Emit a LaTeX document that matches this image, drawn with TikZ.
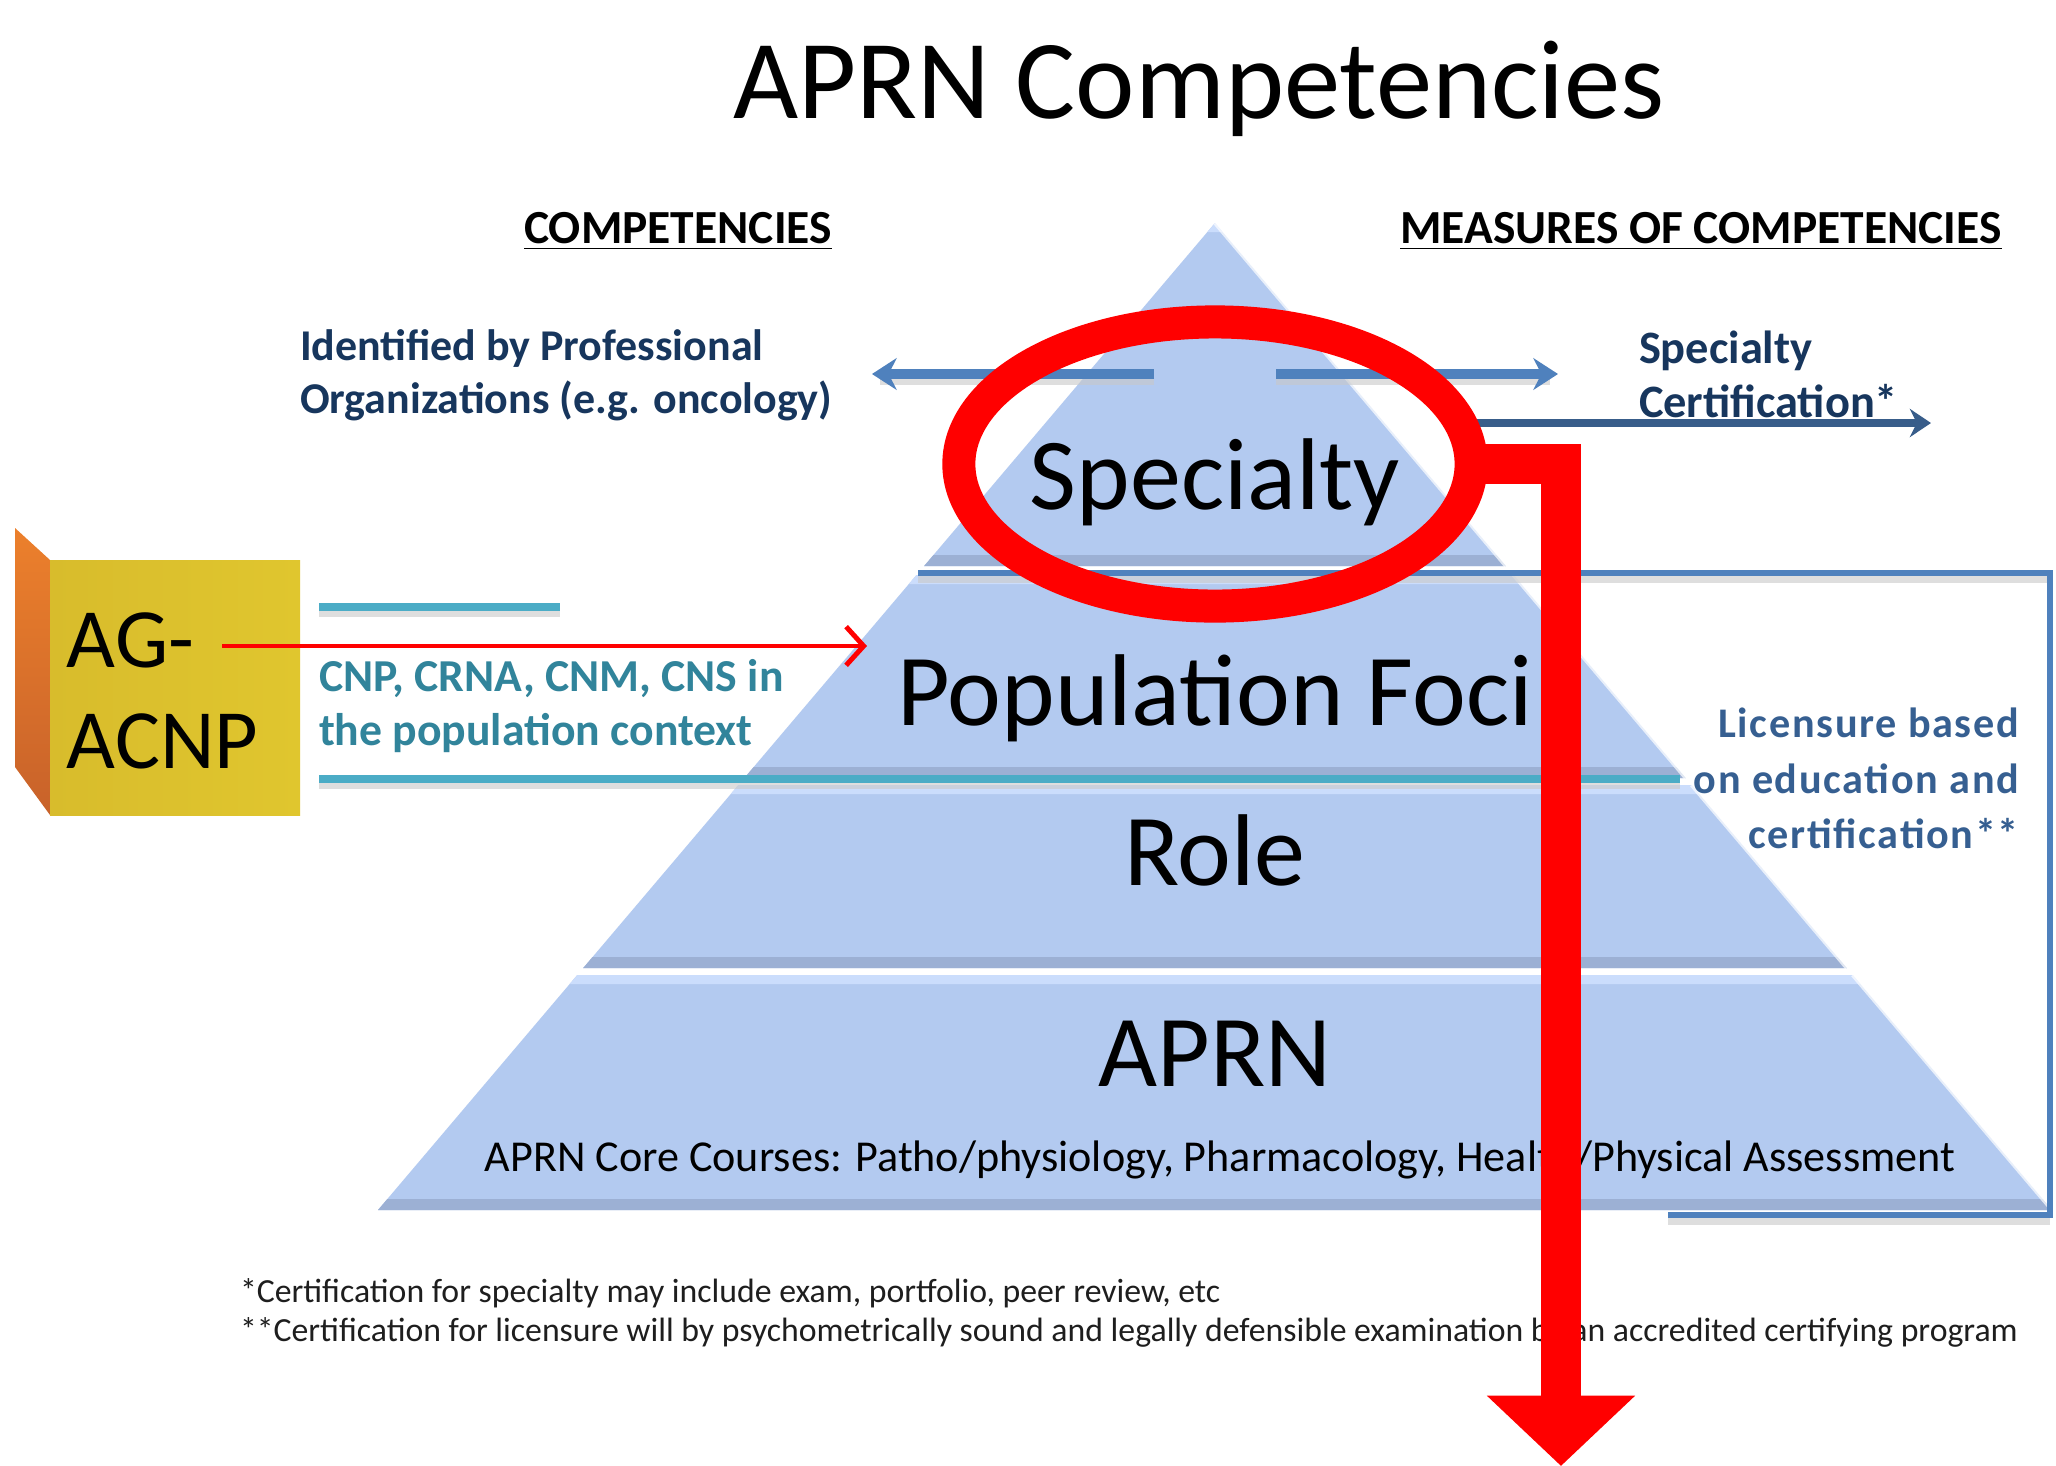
\documentclass[tikz,border=0pt]{standalone}
\usepackage{fontspec}
\setmainfont{Carlito}
\usetikzlibrary{arrows.meta,shapes.geometric}
\definecolor{navy}{RGB}{23,54,93}
\definecolor{tealtext}{RGB}{49,132,155}
\definecolor{licblue}{RGB}{54,95,145}
\definecolor{steel}{RGB}{79,129,189}
\definecolor{darkarrow}{RGB}{56,93,138}
\definecolor{tealline}{RGB}{75,172,198}
\definecolor{pyrblue}{RGB}{179,202,240}
\definecolor{pyrdark}{RGB}{156,176,212}
\definecolor{pyrlight}{RGB}{203,221,252}
\definecolor{boxyellow}{RGB}{216,188,44}
\definecolor{boxyellowlt}{RGB}{224,198,46}
\definecolor{boxsidetop}{RGB}{236,128,44}
\definecolor{boxsidebot}{RGB}{200,98,42}
\definecolor{shadegray}{RGB}{200,200,200}
\definecolor{vivred}{RGB}{255,0,0}
\definecolor{foottext}{RGB}{30,30,30}

\newcommand\pyrlayer[2]{%
  \pgfmathsetmacro\pytop{0.848*(#1-223)}%
  \pgfmathsetmacro\pybot{0.848*(#2-223)}%
  \pgfmathsetmacro\pybandy{#2-11}%
  \pgfmathsetmacro\pyband{0.848*(\pybandy-223)}%
  \pgfmathsetmacro\pyhly{#1+9}%
  \pgfmathsetmacro\pyhl{0.848*(\pyhly-223)}%
  \fill[pyrblue] (1215-\pytop,#1) -- (1215+\pytop,#1) -- (1215+\pybot,#2) -- (1215-\pybot,#2) -- cycle;
  \fill[pyrdark] (1215-\pyband,\pybandy) -- (1215+\pyband,\pybandy) -- (1215+\pybot,#2) -- (1215-\pybot,#2) -- cycle;
  \fill[pyrlight] (1215-\pytop,#1) -- (1215+\pytop,#1) -- (1215+\pyhl,\pyhly) -- (1215-\pyhl,\pyhly) -- cycle;
  \draw[white, opacity=.7, line width=1.1pt] (1215+\pytop,#1) -- (1215+\pybot,#2);
}

\tikzset{
  txt/.style={inner sep=0pt, outer sep=0pt},
  titletxt/.style={txt, font=\fontsize{32}{38}\selectfont},
  headtxt/.style={txt, font=\bfseries\fontsize{13.5}{16}\selectfont},
  idtxt/.style={txt, anchor=base west, text=navy, font=\bfseries\fontsize{12.5}{15}\selectfont},
  certtxt/.style={txt, anchor=base west, text=navy, font=\bfseries\fontsize{13.2}{16}\selectfont},
  cnptxt/.style={txt, anchor=base west, text=tealtext, font=\bfseries\fontsize{13}{16}\selectfont},
  lictxt/.style={txt, anchor=base east, text=licblue, font=\bfseries\fontsize{12}{15}\selectfont\addfontfeatures{LetterSpace=4}},
  layertxt/.style={txt, anchor=base, font=\fontsize{29}{34}\selectfont},
  coretxt/.style={txt, anchor=base, font=\fontsize{12.55}{15}\selectfont},
  foottxt/.style={txt, anchor=base west, text=foottext, font=\fontsize{9.6}{12}\selectfont},
  agtxt/.style={txt, anchor=base west, font=\fontsize{24}{28}\selectfont},
  steelarrow/.style={draw=steel, line width=2.8pt, -{Stealth[length=7pt,width=9pt]}},
  darkline/.style={draw=darkarrow, line width=2.3pt, -{Stealth[length=6pt,width=8pt]}},
  shadeline/.style={draw=shadegray, line width=2pt, opacity=.6},
  bracketline/.style={draw=steel, line width=1.8pt},
  tealrule/.style={draw=tealline, line width=2pt},
  thinred/.style={draw=vivred, line width=1.4pt, -{Straight Barb[length=5pt,width=11pt,line width=1.4pt]}},
  redring/.style={draw=vivred, line width=9.4pt, ellipse, inner sep=0pt, minimum width=5.12cm, minimum height=2.84cm},
  redbar/.style={draw=vivred, line width=11.4pt, -{Triangle[length=20pt,width=41pt]}},
}

\begin{document}
\begin{tikzpicture}[x=0.01cm,y=-0.01cm]
\useasboundingbox (0,0) rectangle (2056,1466);
\fill[white] (0,0) rectangle (2056,1466);

% title and headers
\node[titletxt, anchor=base] (title) at (1199,118) {APRN Competencies};
\node[headtxt, anchor=base] (comphead) at (678,243) {\underline{COMPETENCIES}};
\node[headtxt, anchor=base] (meashead) at (1701,243) {\underline{MEASURES OF COMPETENCIES}};

% pyramid
\pyrlayer{223}{566}
\pyrlayer{575}{778}
\pyrlayer{785}{968}
\pyrlayer{975}{1210}

% bracket and rules (with soft shadows)
\draw[shadeline] (918,579) -- (2050,579);
\draw[shadeline] (1668,1221) -- (2050,1221);
\draw[bracketline] (918,573) -- (2050,573) -- (2050,1215) -- (1668,1215);
\draw[shadeline] (319,613) -- (560,613);
\draw[shadeline] (319,785) -- (1680,785);
\draw[tealrule] (319,607) -- (560,607);
\draw[tealrule] (319,779) -- (1680,779);

% double arrows around the top of the pyramid
\coordinate (leftArrowStart) at (1154,374);
\coordinate (leftArrowEnd) at (872,374);
\coordinate (rightArrowStart) at (1276,374);
\coordinate (rightArrowEnd) at (1558,374);
\draw[shadeline] (1154,381) -- (880,381);
\draw[shadeline] (1276,381) -- (1550,381);
\draw[steelarrow] (leftArrowStart) -- (leftArrowEnd);
\draw[steelarrow] (rightArrowStart) -- (rightArrowEnd);

% specialty certification arrow
\coordinate (certArrowStart) at (1455,423);
\coordinate (certArrowEnd) at (1931,423);
\draw[darkline] (certArrowStart) -- (certArrowEnd);

% left texts
\node[idtxt] (idline1) at (300,360) {Identified by Professional};
\node[idtxt] (idline2) at (300,413) {Organizations (e.g. oncology)};
\node[cnptxt] (cnpline1) at (319,691) {CNP, CRNA, CNM, CNS in};
\node[cnptxt] (cnpline2) at (319,745) {the population context};

% right texts
\node[certtxt] (certline1) at (1639,363) {Specialty};
\node[certtxt] (certline2) at (1639,417) {Certification*};
\node[lictxt] (licline1) at (2019,737) {Licensure based};
\node[lictxt] (licline2) at (2019,793) {on education and};
\node[lictxt] (licline3) at (2019,848) {certification**};

% pyramid texts
\node[layertxt] (specialty) at (1215,509) {Specialty};
\node[layertxt] (popfoci) at (1215,725) {Population Foci};
\node[layertxt] (role) at (1215,885) {Role};
\node[layertxt] (aprn) at (1215,1086) {APRN};
\node[coretxt] (core) at (1220,1171) {APRN Core Courses: Patho/physiology, Pharmacology, Health/Physical Assessment};

% footnotes
\node[foottxt] (foot1) at (240,1302) {*Certification for specialty may include exam, portfolio, peer review, etc};
\node[foottxt] (foot2) at (240,1341) {**Certification for licensure will by psychometrically sound and legally defensible examination by an accredited certifying program};

% AG-ACNP box
\shade[top color=boxsidetop, bottom color=boxsidebot] (15,528) -- (50,560) -- (50,815) -- (15,767) -- cycle;
\shade[left color=boxyellow, right color=boxyellowlt] (50,560) rectangle (300,815);
\node[agtxt] (agline1) at (67,667) {AG-};
\node[agtxt] (agline2) at (67,768) {ACNP};

% red annotations
\coordinate (agArrowStart) at (222,646);
\coordinate (popArrowEnd) at (867,646);
\draw[thinred] (agArrowStart) -- (popArrowEnd);
\node[redring] (ring) at (1215,464) {};
\coordinate (redTip) at (1561,1466);
\draw[redbar] ([xshift=-0.2cm]ring.east) -| (redTip);
\end{tikzpicture}
\end{document}
